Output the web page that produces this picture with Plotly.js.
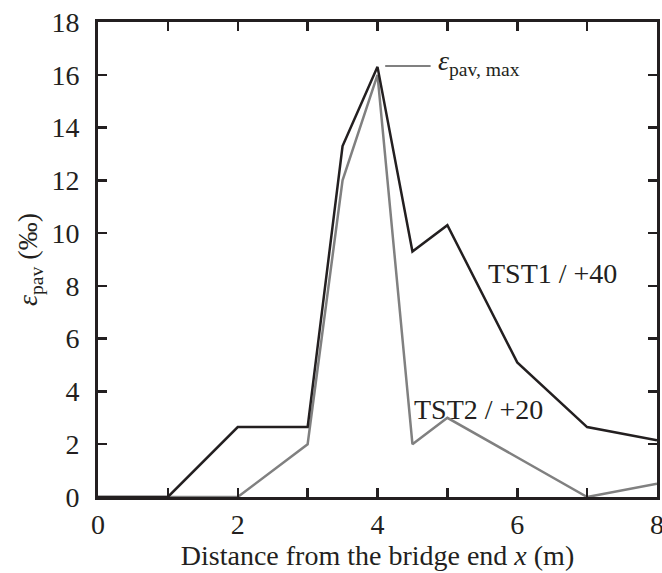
<!DOCTYPE html>
<html><head><meta charset="utf-8">
<script src="https://cdn.plot.ly/plotly-3.0.1.min.js"></script>
<style>body{margin:0;background:#fff}</style>
</head><body>
<div id="chart" style="width:662px;height:573px"></div>
<script>
var xTST1 = [0, 1, 2, 3, 3.5, 4, 4.5, 5, 6, 7, 8];
var yTST1 = [0, 0, 2.65, 2.65, 13.3, 16.3, 9.3, 10.3, 5.1, 2.65, 2.15];
var xTST2 = [0, 1, 2, 3, 3.5, 4, 4.5, 5, 7, 8];
var yTST2 = [0, 0, 0, 2, 12, 16, 2, 3, 0, 0.5];
var labelTST1 = "TST1 / +40";
var labelTST2 = "TST2 / +20";

var font = {family: "Liberation Serif, Times New Roman, serif", color: "#231f20", size: 28};
var traces = [
  {x: xTST2, y: yTST2, mode: "lines", line: {color: "#808080", width: 2.5}, hoverinfo: "skip"},
  {x: xTST1, y: yTST1, mode: "lines", line: {color: "#231f20", width: 2.5}, hoverinfo: "skip"}
];
var axisCommon = {
  showline: true, mirror: "ticks", linecolor: "#231f20", linewidth: 3,
  ticks: "inside", ticklen: 9, tickwidth: 2.5, tickcolor: "#231f20",
  showgrid: false, zeroline: false, tickfont: font, ticklabeloverflow: "allow"
};
var layout = {
  width: 662, height: 573,
  margin: {l: 98, r: 5, t: 22, b: 76},
  paper_bgcolor: "#fff", plot_bgcolor: "#fff",
  showlegend: false,
  font: font,
  xaxis: Object.assign({}, axisCommon, {
    range: [0, 8], dtick: 2, tick0: 0,
    minor: {dtick: 1, ticks: "inside", ticklen: 9, tickwidth: 2.5, tickcolor: "#231f20", showgrid: false},
    title: {text: "Distance from the bridge end <i>x</i> (m)", font: font, standoff: 2}
  }),
  yaxis: Object.assign({}, axisCommon, {
    range: [0, 18], dtick: 2, tick0: 0, ticklabelstandoff: 10,
    title: {text: "<i>ε</i><sub>pav</sub> (‰)", font: font, standoff: 6}
  }),
  shapes: [
    {type: "line", xref: "x", yref: "y", x0: 4.11, x1: 4.76, y0: 16.33, y1: 16.33,
     line: {color: "#808080", width: 2}}
  ],
  annotations: [
    {x: 6.51, y: 8.48, xref: "x", yref: "y", text: labelTST1, showarrow: false, font: font},
    {x: 5.44, y: 3.3, xref: "x", yref: "y", text: labelTST2, showarrow: false, font: font},
    {x: 4.84, y: 16.45, xref: "x", yref: "y", xanchor: "left", text: "<i>ε</i><sub>pav, max</sub>",
     showarrow: false, font: font}
  ]
};
Plotly.newPlot("chart", traces, layout, {displayModeBar: false, staticPlot: true});
</script>
</body></html>
